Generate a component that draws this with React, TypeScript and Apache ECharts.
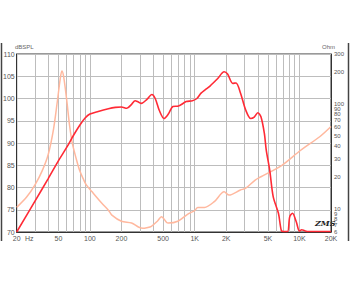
import React, { useEffect, useRef } from "react";
import * as echarts from "echarts";

// SPL response (dB) vs frequency (Hz)
const splFreq = [20, 30, 40, 50, 60, 70, 80, 90, 100, 120, 150, 175, 200, 225, 250, 270, 290, 310, 350, 390, 420, 460, 510, 560, 620, 700, 830, 950, 1050, 1150, 1250, 1400, 1660, 1910, 2060, 2310, 2480, 2740, 3070, 3430, 3700, 4000, 4290, 4620, 4820, 5200, 5620, 6300, 6700, 7000, 7700, 8070, 8580, 9320, 10000, 10500, 11200, 12000, 20000];
const splDb = [70, 77, 82, 86, 89, 91.8, 94, 95.6, 96.5, 97.1, 97.7, 98.0, 98.1, 97.8, 98.7, 99.5, 99.2, 98.9, 99.8, 100.9, 100.0, 97.3, 95.5, 96.5, 98.2, 98.3, 99.3, 99.5, 100.0, 101.2, 101.9, 102.8, 104.5, 106.0, 105.5, 103.4, 103.5, 101.2, 97.4, 95.5, 95.8, 96.8, 95.9, 92.2, 88.4, 83.9, 77.9, 74.2, 70.4, 70.1, 70.1, 73.4, 74.2, 72.3, 70.2, 70.5, 70.3, 70.1, 70.1];

// Impedance (Ohm) vs frequency (Hz)
const impFreq = [20, 25, 30, 35, 40, 45, 49, 52, 54, 56, 60, 64, 68, 74, 80, 86, 92, 105, 130, 150, 162, 200, 250, 290, 321, 350, 386, 440, 482, 540, 560, 690, 860, 1000, 1070, 1240, 1540, 1910, 2130, 2730, 3070, 3780, 4290, 6800, 10200, 15600, 20000];
const impOhm = [10.3, 13, 17, 23, 33, 58, 108, 172, 207, 185, 110, 62, 42, 30, 23, 19.5, 17, 14.5, 11.3, 9.7, 8.7, 7.6, 7.3, 6.7, 6.5, 6.6, 6.8, 7.6, 8.4, 7.4, 7.3, 7.6, 8.9, 9.6, 10.3, 10.3, 11.7, 14.5, 13.5, 15.1, 15.7, 18.8, 20.2, 26, 36, 48.7, 61];

// Axis ticks
const freqGrid = [20, 30, 40, 50, 60, 70, 80, 90, 100, 200, 300, 400, 500, 600, 700, 800, 900, 1000, 2000, 3000, 4000, 5000, 6000, 7000, 8000, 9000, 10000, 20000];
const freqLabels = [20, 50, 100, 200, 500, 1000, 2000, 5000, 10000, 20000];
const ohmLabels = [6, 7, 8, 9, 10, 20, 30, 40, 50, 60, 70, 80, 90, 100, 200, 300];

const lg = (v: number) => Math.log10(v);
const fmtFreq = (f: number) => (f >= 1000 ? `${Math.round(f / 1000)}K` : `${Math.round(f)}`);

export default function App() {
  const ref = useRef<HTMLDivElement>(null);
  useEffect(() => {
    if (!ref.current) return;
    const chart = echarts.init(ref.current, null, { renderer: "svg" });
    const labelFont = { fontFamily: "Liberation Sans", fontSize: 7, color: "#555" };
    chart.setOption({
      animation: false,
      backgroundColor: "#fff",
      grid: { left: 14, right: 19, top: 54, bottom: 52, show: true, borderColor: "#333", borderWidth: 1 },
      xAxis: {
        type: "value",
        min: lg(20),
        max: lg(20000),
        axisLine: { show: true, lineStyle: { color: "#333" } },
        axisTick: { show: false, customValues: freqGrid.map(lg) },
        splitLine: { show: true, lineStyle: { color: "#bdbdbd", width: 1 } },
        axisLabel: {
          ...labelFont,
          margin: 3,
          customValues: freqLabels.map(lg),
          formatter: (v: number) => fmtFreq(Math.pow(10, v)),
        },
      },
      yAxis: [
        {
          type: "value",
          min: 70,
          max: 110,
          interval: 5,
          axisLine: { show: true, lineStyle: { color: "#333" } },
          axisTick: { show: false },
          splitLine: { show: true, lineStyle: { color: "#bdbdbd", width: 1 } },
          axisLabel: { ...labelFont, margin: 2 },
        },
        {
          type: "value",
          min: lg(6),
          max: lg(300),
          position: "right",
          axisLine: { show: true, lineStyle: { color: "#333" } },
          axisTick: { show: false, customValues: ohmLabels.map(lg) },
          splitLine: { show: false },
          axisLabel: {
            ...labelFont,
            fontSize: 6,
            margin: 3,
            customValues: ohmLabels.map(lg),
            formatter: (v: number) => `${Math.round(Math.pow(10, v))}`,
          },
        },
      ],
      series: [
        {
          type: "line",
          yAxisIndex: 1,
          smooth: 0.3,
          symbol: "none",
          data: impFreq.map((f, i) => [lg(f), lg(impOhm[i])]),
          lineStyle: { color: "#ffb89e", width: 1.5 },
          z: 3,
        },
        {
          type: "line",
          yAxisIndex: 0,
          smooth: 0.3,
          symbol: "none",
          data: splFreq.map((f, i) => [lg(f), splDb[i]]),
          lineStyle: { color: "#ff2a35", width: 1.6 },
          z: 4,
        },
      ],
      graphic: [
        { type: "line", shape: { x1: 1.5, y1: 43, x2: 1.5, y2: 241 }, style: { stroke: "#444", lineWidth: 1.5 } },
        { type: "line", shape: { x1: 348.5, y1: 43, x2: 348.5, y2: 241 }, style: { stroke: "#444", lineWidth: 1.5 } },
        { type: "text", x: 15, y: 44, style: { text: "dBSPL", font: "6px Liberation Sans", fill: "#666" } },
        { type: "text", x: 322, y: 44, style: { text: "Ohm", font: "6px Liberation Sans", fill: "#666" } },
        { type: "text", x: 25, y: 235, style: { text: "Hz", font: "7px Liberation Sans", fill: "#555" } },
        { type: "text", x: 315, y: 219, style: { text: "ZMS", font: "italic bold 8px DejaVu Serif", fill: "#222" } },
      ],
    });
    return () => chart.dispose();
  }, []);
  return <div ref={ref} style={{ position: "fixed", left: 0, top: 0, width: 350, height: 284 }} />;
}
